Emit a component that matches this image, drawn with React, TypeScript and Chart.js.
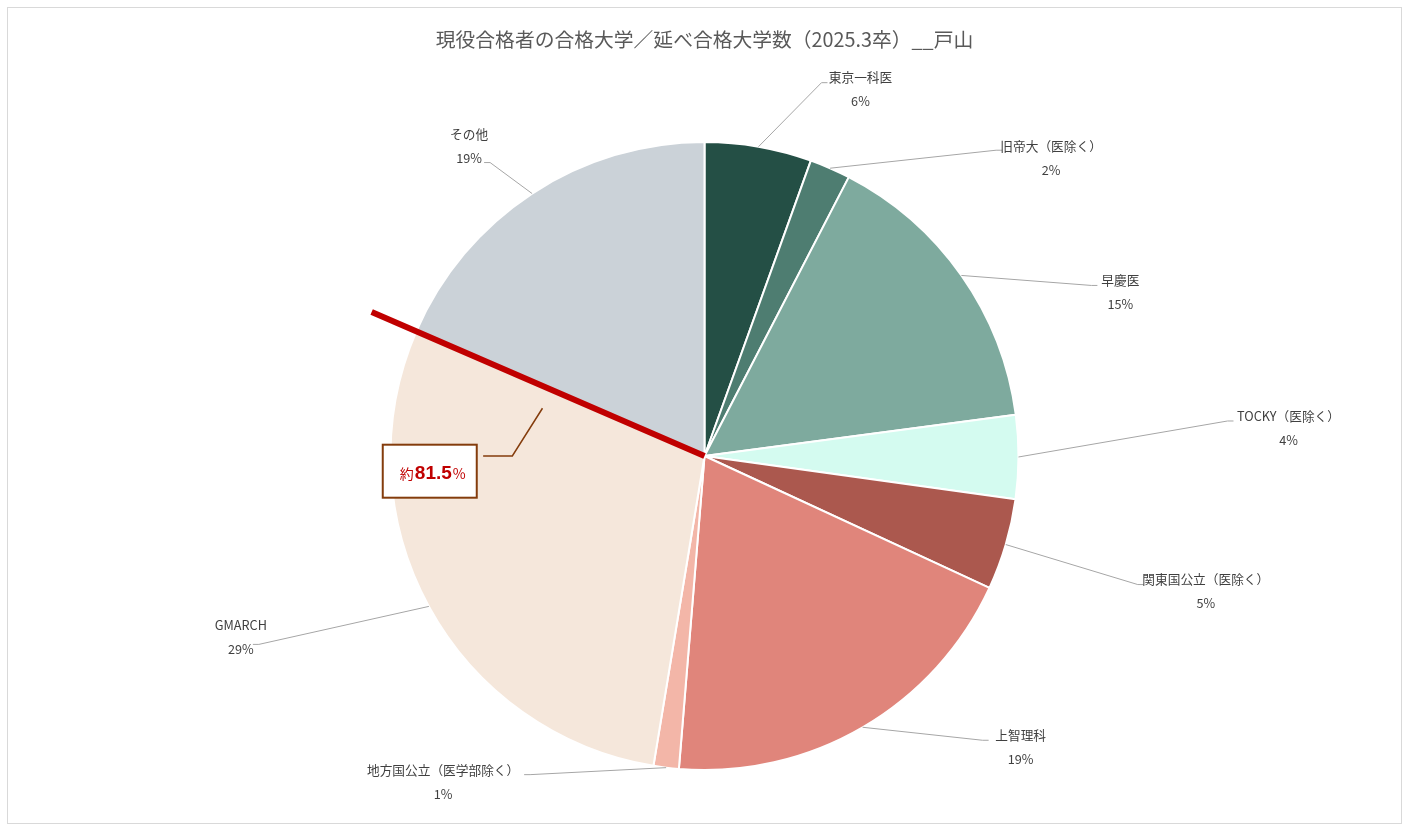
import { useEffect, useRef } from 'react';
import { Chart, registerables } from 'chart.js';

Chart.register(...registerables);

const TITLE = '現役合格者の合格大学／延べ合格大学数（2025.3卒）__戸山';
const CATEGORIES = [
  '東京一科医',
  '旧帝大（医除く）',
  '早慶医',
  'TOCKY（医除く）',
  '関東国公立（医除く）',
  '上智理科',
  '地方国公立（医学部除く）',
  'GMARCH',
  'その他',
];
// share of all offers, %
const SHARES = [5.5, 2.1, 15.3, 4.3, 4.7, 19.4, 1.3, 28.9, 18.5];
const COLORS = ['#244F45', '#4E7D71', '#7EAA9E', '#D4FBF0', '#AB584E', '#E0857B', '#F3B6A8', '#F5E7DB', '#CBD2D8'];

// callout: cumulative share up to (and incl.) GMARCH
const CUT_AFTER = 7;
const CALLOUT = ['約', '81.5', '%'];

// label block centre, offset from the slice's outer mid point
const LABEL_OFFSET = [[102, -57], [221, -10], [159, 17], [270, -29], [200, 47], [158, 20], [-223, 15], [-188, 31], [-63, -47]];
// where the leader line meets the label, offset from the block centre
const LEADER_END = [[-33, -7], [-49, -8], [-23, -7], [-55, -7], [-62, -7], [-32, -7], [81, -8], [12, 7], [15, 16]];

const JP = '"Noto Sans CJK JP", "Noto Sans", sans-serif';

const overlay = {
  id: 'overlay',
  afterDatasetsDraw(chart: Chart) {
    const ctx = chart.ctx;
    const arcs = chart.getDatasetMeta(0).data as any[];
    const total = SHARES.reduce((a, b) => a + b, 0);
    ctx.save();

    // title
    ctx.fillStyle = '#595959';
    ctx.font = `19.8px ${JP}`;
    ctx.textAlign = 'center';
    ctx.textBaseline = 'middle';
    ctx.fillText(TITLE, chart.width / 2, 31);

    const p0 = arcs[0].getProps(['x', 'y', 'outerRadius'], true);
    const cx0 = p0.x, cy0 = p0.y, r = p0.outerRadius;

    // red cut line along GMARCH / その他 border
    const cut = arcs[CUT_AFTER].getProps(['endAngle'], true).endAngle;
    ctx.strokeStyle = '#C00000';
    ctx.lineWidth = 6;
    ctx.beginPath();
    ctx.moveTo(cx0, cy0);
    ctx.lineTo(cx0 + Math.cos(cut) * r * 1.155, cy0 + Math.sin(cut) * r * 1.155);
    ctx.stroke();

    // callout box
    const bx = cx0 - 0.875 * r, by = cy0 + 0.05 * r;
    ctx.strokeStyle = '#843C0C';
    ctx.lineWidth = 1.5;
    ctx.beginPath();
    ctx.moveTo(cx0 - 0.705 * r, cy0);
    ctx.lineTo(cx0 - 0.612 * r, cy0);
    ctx.lineTo(cx0 - 0.516 * r, cy0 - 0.152 * r);
    ctx.stroke();
    ctx.fillStyle = '#FFFFFF';
    ctx.fillRect(bx - 47, by - 27, 94, 53);
    ctx.lineWidth = 2;
    ctx.strokeRect(bx - 47, by - 27, 94, 53);

    const fonts = [`14px ${JP}`, `bold 19px "Liberation Sans", Arial, sans-serif`, `14px ${JP}`];
    const widths = CALLOUT.map((t, i) => { ctx.font = fonts[i]; return ctx.measureText(t).width; });
    let tx = bx + 2 - widths.reduce((a, b) => a + b, 0) / 2;
    ctx.fillStyle = '#C00000';
    ctx.textAlign = 'left';
    ctx.textBaseline = 'alphabetic';
    CALLOUT.forEach((t, i) => {
      ctx.font = fonts[i];
      ctx.fillText(t, tx, by + 7);
      tx += widths[i] + 1;
    });

    // data labels with leader lines
    arcs.forEach((arc, i) => {
      const { x, y, startAngle, endAngle, outerRadius } = arc.getProps(['x', 'y', 'startAngle', 'endAngle', 'outerRadius'], true);
      const mid = (startAngle + endAngle) / 2;
      const ax = x + Math.cos(mid) * outerRadius;
      const ay = y + Math.sin(mid) * outerRadius;
      const lx = ax + LABEL_OFFSET[i][0];
      const ly = ay + LABEL_OFFSET[i][1];
      const ex = lx + LEADER_END[i][0];
      const ey = ly + LEADER_END[i][1];
      const stub = ex < lx ? -6 : 6;

      ctx.strokeStyle = '#A6A6A6';
      ctx.lineWidth = 1;
      ctx.beginPath();
      ctx.moveTo(ax, ay);
      ctx.lineTo(ex + stub, ey);
      ctx.lineTo(ex, ey);
      ctx.stroke();

      ctx.fillStyle = '#404040';
      ctx.font = `12.7px ${JP}`;
      ctx.textAlign = 'center';
      ctx.textBaseline = 'middle';
      ctx.fillText(CATEGORIES[i], lx, ly - 12);
      ctx.fillText(`${Math.round((SHARES[i] / total) * 100)}%`, lx, ly + 12);
    });

    ctx.restore();
  },
};

export default function App() {
  const canvasRef = useRef<HTMLCanvasElement>(null);

  useEffect(() => {
    if (!canvasRef.current) return;
    const chart = new Chart(canvasRef.current, {
      type: 'pie',
      data: {
        labels: CATEGORIES,
        datasets: [{
          data: SHARES,
          backgroundColor: COLORS,
          borderColor: '#FFFFFF',
          borderWidth: 2,
        }],
      },
      options: {
        responsive: true,
        maintainAspectRatio: false,
        animation: false,
        layout: { padding: { top: 133, bottom: 52, left: 0, right: 0 } },
        plugins: {
          legend: { display: false },
          tooltip: { enabled: false },
        },
      },
      plugins: [overlay],
    });
    return () => { chart.destroy(); };
  }, []);

  return (
    <div style={{
      position: 'absolute', left: 7, top: 7, width: 1395, height: 817,
      border: '1px solid #D9D9D9', boxSizing: 'border-box', background: '#FFFFFF',
    }}>
      <div style={{ position: 'relative', width: '100%', height: '100%' }}>
        <canvas ref={canvasRef} />
      </div>
    </div>
  );
}
